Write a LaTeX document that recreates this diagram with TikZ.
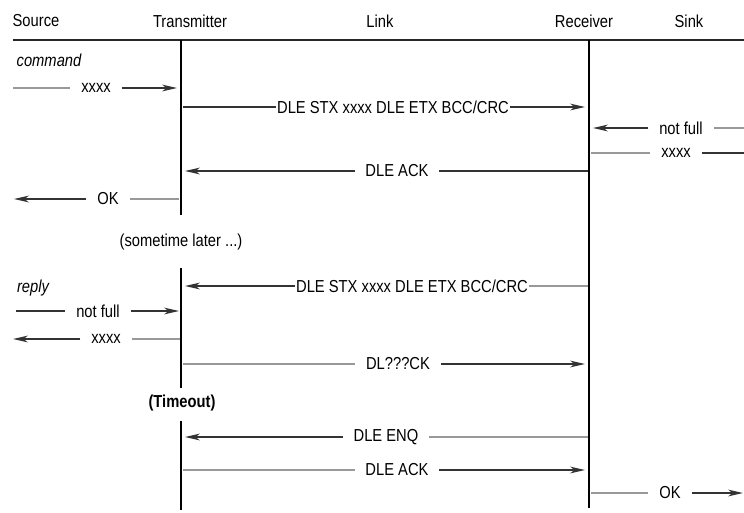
\documentclass[tikz,border=0pt]{standalone}
\usepackage{fontspec}
\setmainfont[FakeStretch=0.85]{Liberation Sans}
\usetikzlibrary{arrows.meta}

\begin{document}
\begin{tikzpicture}[
  x=0.75pt,
  y=-0.75pt,
  font=\fontsize{13}{15}\selectfont,
  head/.style={inner sep=0pt},
  note/.style={inner sep=0pt},
  msg/.style={inner xsep=8pt,inner ysep=0pt},
  tight/.style={msg,inner xsep=1pt},
  rule/.style={draw=black!85,line width=1.2pt},
  lifeline/.style={draw=black,line width=1.2pt},
  tail/.style={draw=black!40,line width=1.2pt},
  lead/.style={draw=black!80,line width=1.2pt},
  send/.style={lead,-{Stealth[length=11pt,width=5pt,inset=3pt]}}
]
\useasboundingbox (0,0) rectangle (744,512);

% Header row.
\node[head] (src) at (36,21) {Source};
\node[head] (trm) at (190,21) {Transmitter};
\node[head] (lnk) at (380,21) {Link};
\node[head] (rcv) at (584,21) {Receiver};
\node[head] (snk) at (689,21) {Sink};
\coordinate (hl) at (13,40);
\coordinate (hr) at (744,40);
\draw[rule] (hl) -- (hr);

% Lifelines (transmitter is broken by the notes).
\coordinate (t0) at (181,40);
\coordinate (t1) at (181,215);
\coordinate (t2) at (181,268);
\coordinate (t3) at (181,388);
\coordinate (t4) at (181,421);
\coordinate (t5) at (181,510);
\coordinate (r0) at (589,40);
\coordinate (r1) at (589,508);
\draw[lifeline] (t0) -- (t1);
\draw[lifeline] (t2) -- (t3);
\draw[lifeline] (t4) -- (t5);
\draw[lifeline] (r0) -- (r1);

% Command.
\node[note] (cmd) at (49,60) {\itshape command};
\node[msg] (cx) at (96,88) {xxxx};
\coordinate (cx0) at (13,88);
\coordinate (cx1) at (177,88);
\draw[tail] (cx0) -- (cx.west);
\draw[send] (cx.east) -- (cx1);

\node[tight] (cf) at (393,107) {DLE STX xxxx DLE ETX BCC/CRC};
\coordinate (cf0) at (183,107);
\coordinate (cf1) at (585,107);
\draw[lead] (cf0) -- (cf.west);
\draw[send] (cf.east) -- (cf1);

\node[msg] (nf) at (681,128) {not full};
\coordinate (nf0) at (744,128);
\coordinate (nf1) at (593,128);
\draw[tail] (nf0) -- (nf.east);
\draw[send] (nf.west) -- (nf1);

\node[msg] (sx) at (676,153) {xxxx};
\coordinate (sx0) at (591,153);
\coordinate (sx1) at (744,153);
\draw[tail] (sx0) -- (sx.west);
\draw[lead] (sx.east) -- (sx1);

\node[msg] (ak) at (397,171) {DLE ACK};
\coordinate (ak0) at (588,171);
\coordinate (ak1) at (185,171);
\draw[lead] (ak0) -- (ak.east);
\draw[send] (ak.west) -- (ak1);

\node[msg] (ok) at (108,199) {OK};
\coordinate (ok0) at (179,199);
\coordinate (ok1) at (14,199);
\draw[tail] (ok0) -- (ok.east);
\draw[send] (ok.west) -- (ok1);

\node[note] (later) at (181,242) {(sometime later ...)};

% Reply.
\node[note] (rpl) at (33,288) {\itshape reply};
\node[tight] (rf) at (412,286) {DLE STX xxxx DLE ETX BCC/CRC};
\coordinate (rf0) at (588,286);
\coordinate (rf1) at (185,286);
\draw[tail] (rf0) -- (rf.east);
\draw[send] (rf.west) -- (rf1);

\node[msg] (rn) at (98,311) {not full};
\coordinate (rn0) at (16,311);
\coordinate (rn1) at (179,311);
\draw[lead] (rn0) -- (rn.west);
\draw[send] (rn.east) -- (rn1);

\node[msg] (rx) at (106,339) {xxxx};
\coordinate (rx0) at (180,339);
\coordinate (rx1) at (13,339);
\draw[tail] (rx0) -- (rx.east);
\draw[send] (rx.west) -- (rx1);

\node[msg] (bad) at (398,364) {DL???CK};
\coordinate (bad0) at (183,364);
\coordinate (bad1) at (585,364);
\draw[tail] (bad0) -- (bad.west);
\draw[send] (bad.east) -- (bad1);

\node[note] (tmo) at (182,403) {\bfseries (Timeout)};

\node[msg] (enq) at (386,437) {DLE ENQ};
\coordinate (enq0) at (588,437);
\coordinate (enq1) at (185,437);
\draw[tail] (enq0) -- (enq.east);
\draw[send] (enq.west) -- (enq1);

\node[msg] (ak2) at (397,470) {DLE ACK};
\coordinate (ak20) at (183,470);
\coordinate (ak21) at (585,470);
\draw[tail] (ak20) -- (ak2.west);
\draw[send] (ak2.east) -- (ak21);

\node[msg] (ok2) at (670,493) {OK};
\coordinate (ok20) at (591,493);
\coordinate (ok21) at (743,493);
\draw[tail] (ok20) -- (ok2.west);
\draw[send] (ok2.east) -- (ok21);

\end{tikzpicture}
\end{document}
